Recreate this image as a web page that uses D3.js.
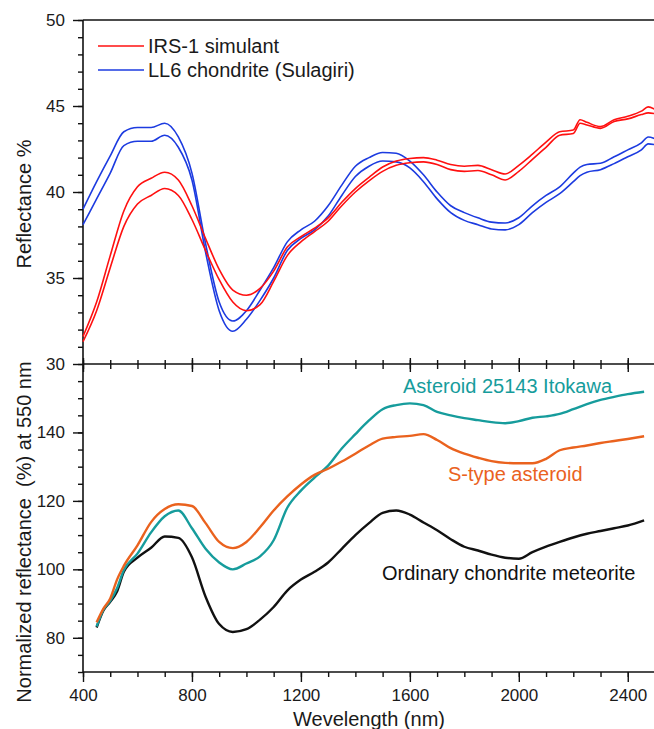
<!DOCTYPE html>
<html>
<head>
<meta charset="utf-8">
<script src="https://cdn.jsdelivr.net/npm/d3@7"></script>
<style>
body{margin:0;background:#fff;}
svg text{font-family:"Liberation Sans",Arial,sans-serif;fill:#1a1a1a;}
</style>
</head>
<body>
<svg id="chart" width="654" height="729"></svg>
<script>
// top panel: reflectance %
var topWave = [400,450,500,550,600,650,700,750,800,850,900,950,1000,1050,1100,1150,1200,1250,1300,1350,1400,1450,1500,1550,1600,1650,1700,1750,1800,1850,1900,1950,2000,2050,2100,2150,2200,2225,2250,2300,2350,2400,2450,2475,2500];
var irsUpper = [31.6,33.6,36.3,38.9,40.3,40.8,41.15,40.7,39.2,37.3,35.5,34.3,34.0,34.4,35.4,36.8,37.4,37.9,38.5,39.4,40.2,40.85,41.45,41.8,41.95,42.0,41.85,41.6,41.5,41.55,41.3,41.05,41.55,42.2,42.9,43.5,43.6,44.2,44.05,43.8,44.2,44.4,44.7,44.95,44.8];
var irsLower = [31.3,33.1,35.6,38.0,39.3,39.8,40.2,39.8,38.4,36.6,34.9,33.6,33.1,33.45,34.8,36.3,37.1,37.7,38.3,39.2,40.0,40.65,41.2,41.55,41.7,41.75,41.6,41.3,41.2,41.25,41.0,40.7,41.2,41.9,42.6,43.3,43.4,44.0,43.9,43.7,44.1,44.25,44.5,44.6,44.55];
var ll6Upper = [39.0,40.6,42.1,43.5,43.75,43.75,44.0,43.2,41.1,37.0,33.6,32.5,33.1,34.3,35.6,37.1,37.8,38.3,39.2,40.4,41.5,42.0,42.3,42.25,41.8,41.0,40.0,39.2,38.8,38.5,38.25,38.2,38.5,39.2,39.8,40.3,41.1,41.45,41.6,41.67,42.05,42.45,42.85,43.2,43.1];
var ll6Lower = [38.1,39.6,41.1,42.7,42.95,42.95,43.3,42.6,40.7,36.5,33.1,31.9,32.6,33.7,35.0,36.6,37.3,37.8,38.6,39.8,40.9,41.5,41.8,41.75,41.4,40.6,39.6,38.8,38.35,38.1,37.85,37.8,38.1,38.8,39.4,39.9,40.6,40.95,41.15,41.3,41.65,42.05,42.45,42.8,42.75];

// bottom panel: normalized reflectance at 550 nm
var botWave = [450,475,500,525,550,600,650,700,750,800,850,900,950,1000,1050,1100,1150,1200,1250,1300,1350,1400,1450,1500,1550,1600,1650,1700,1750,1800,1850,1900,1950,2000,2050,2100,2150,2200,2250,2300,2350,2400,2460];
var itokawa = [83.3,88.2,90.8,94.5,99.8,104.6,110.8,115.5,117.2,112.0,106.0,102.0,100.0,101.7,103.8,108.5,118.0,123.0,126.8,130.3,135.3,139.5,143.5,146.8,148.0,148.5,148.0,146.0,145.0,144.2,143.6,143.0,142.7,143.3,144.3,144.7,145.4,146.8,148.3,149.5,150.4,151.2,151.9];
var sType = [84.5,88.5,91.5,97.0,101.0,107.0,113.8,117.6,119.0,118.5,113.5,108.0,106.2,108.0,112.3,117.2,121.3,124.8,127.6,129.4,131.5,133.8,136.2,138.2,138.7,139.0,139.5,137.8,135.4,133.8,132.6,131.6,131.1,131.0,131.0,132.3,134.8,135.6,136.2,136.9,137.5,138.1,138.9];
var ordinary = [83.0,88.0,90.5,93.5,99.3,103.4,106.3,109.6,109.2,103.5,92.0,84.0,81.7,82.5,85.3,89.0,93.8,97.0,99.3,102.0,106.0,110.0,113.5,116.5,117.2,116.0,113.7,111.4,108.8,106.6,105.5,104.3,103.4,103.1,105.0,106.6,108.0,109.3,110.4,111.2,112.0,112.8,114.3];

var xTicks = [400,800,1200,1600,2000,2400];
var topYTicks = [30,35,40,45,50];
var botYTicks = [80,100,120,140];

var svg = d3.select("#chart");
var left = 83, right = 655, topY0 = 20, midY = 364, botY1 = 672;

var x = d3.scaleLinear().domain([400,2500]).range([left,right]);
var yTop = d3.scaleLinear().domain([30,50]).range([midY,topY0]);
var yBot = d3.scaleLinear().domain([70,160]).range([botY1,midY]);

var minorX = d3.range(400,2501,100);

function styleAxis(g){
	g.select(".domain").remove();
	g.selectAll("line").attr("stroke","#111").attr("stroke-width",1.4);
	g.selectAll("text").attr("font-size",17).attr("fill","#1a1a1a");
}

// frame lines
svg.append("line").attr("x1",left).attr("x2",left).attr("y1",topY0).attr("y2",botY1).attr("stroke","#111").attr("stroke-width",1.6);
[topY0, midY, botY1].forEach(function(yy){
	svg.append("line").attr("x1",left).attr("x2",right).attr("y1",yy).attr("y2",yy).attr("stroke","#111").attr("stroke-width",1.6);
});

// top panel axes
svg.append("g").attr("transform","translate(0,"+midY+")")
	.call(d3.axisBottom(x).tickValues(minorX).tickSize(5).tickFormat("")).call(styleAxis);
svg.append("g").attr("transform","translate(0,"+midY+")")
	.call(d3.axisBottom(x).tickValues(xTicks).tickSize(8).tickFormat("")).call(styleAxis);
svg.append("g").attr("transform","translate(0,"+midY+")")
	.call(d3.axisTop(x).tickValues(minorX).tickSize(4).tickFormat("")).call(styleAxis);
svg.append("g").attr("transform","translate(0,"+midY+")")
	.call(d3.axisTop(x).tickValues(xTicks).tickSize(6).tickFormat("")).call(styleAxis);

svg.append("g").attr("transform","translate("+left+",0)")
	.call(d3.axisLeft(yTop).tickValues(d3.range(30,51,1)).tickSize(5).tickFormat("")).call(styleAxis);
svg.append("g").attr("transform","translate("+left+",0)")
	.call(d3.axisLeft(yTop).tickValues(topYTicks).tickSize(10).tickPadding(8).tickFormat(d3.format("d"))).call(styleAxis);

// bottom panel axes
svg.append("g").attr("transform","translate(0,"+botY1+")")
	.call(d3.axisBottom(x).tickValues(minorX).tickSize(5).tickFormat("")).call(styleAxis);
svg.append("g").attr("transform","translate(0,"+botY1+")")
	.call(d3.axisBottom(x).tickValues(xTicks).tickSize(10).tickPadding(7).tickFormat(d3.format("d"))).call(styleAxis);

svg.append("g").attr("transform","translate("+left+",0)")
	.call(d3.axisLeft(yBot).tickValues(d3.range(70,156,5)).tickSize(5).tickFormat("")).call(styleAxis);
svg.append("g").attr("transform","translate("+left+",0)")
	.call(d3.axisLeft(yBot).tickValues(botYTicks).tickSize(10).tickPadding(8).tickFormat(d3.format("d"))).call(styleAxis);

// axis titles
svg.append("text").attr("transform","translate(31,204) rotate(-90)")
	.attr("text-anchor","middle").attr("font-size",20).text("Reflectance %");
svg.append("text").attr("transform","translate(31,532) rotate(-90)")
	.attr("text-anchor","middle").attr("font-size",20).attr("xml:space","preserve")
	.text("Normalized reflectance  (%) at 550 nm");
svg.append("text").attr("x",369).attr("y",726)
	.attr("text-anchor","middle").attr("font-size",20).text("Wevelength (nm)");

// lines
function drawSeries(waves, values, yScale, color, width){
	var pts = waves.map(function(w,i){ return [w, values[i]]; });
	var line = d3.line()
		.x(function(d){ return x(d[0]); })
		.y(function(d){ return yScale(d[1]); })
		.curve(d3.curveMonotoneX);
	svg.append("path").datum(pts)
		.attr("d",line).attr("fill","none")
		.attr("stroke",color).attr("stroke-width",width)
		.attr("stroke-linejoin","round");
}

var RED = "#ff1010", BLUE = "#1c3be0";
drawSeries(topWave, ll6Upper, yTop, BLUE, 1.6);
drawSeries(topWave, ll6Lower, yTop, BLUE, 1.6);
drawSeries(topWave, irsUpper, yTop, RED, 1.6);
drawSeries(topWave, irsLower, yTop, RED, 1.6);

var TEAL = "#169c9c", ORANGE = "#ea621e";
drawSeries(botWave, ordinary, yBot, "#111", 2.4);
drawSeries(botWave, itokawa, yBot, TEAL, 2.4);
drawSeries(botWave, sType, yBot, ORANGE, 2.4);

// legend
var legend = [
	{name:"IRS-1 simulant", color:RED, y:46},
	{name:"LL6 chondrite (Sulagiri)", color:BLUE, y:70}
];
legend.forEach(function(d){
	svg.append("line").attr("x1",98).attr("x2",144).attr("y1",d.y).attr("y2",d.y)
		.attr("stroke",d.color).attr("stroke-width",1.6);
	svg.append("text").attr("x",148).attr("y",d.y+7).attr("font-size",20).text(d.name);
});

// curve labels
svg.append("text").attr("x",403).attr("y",393).attr("font-size",20)
	.style("fill",TEAL).text("Asteroid 25143 Itokawa");
svg.append("text").attr("x",448).attr("y",481).attr("font-size",20)
	.style("fill",ORANGE).text("S-type asteroid");
svg.append("text").attr("x",382).attr("y",580).attr("font-size",20)
	.style("fill","#111").text("Ordinary chondrite meteorite");
</script>
</body>
</html>
